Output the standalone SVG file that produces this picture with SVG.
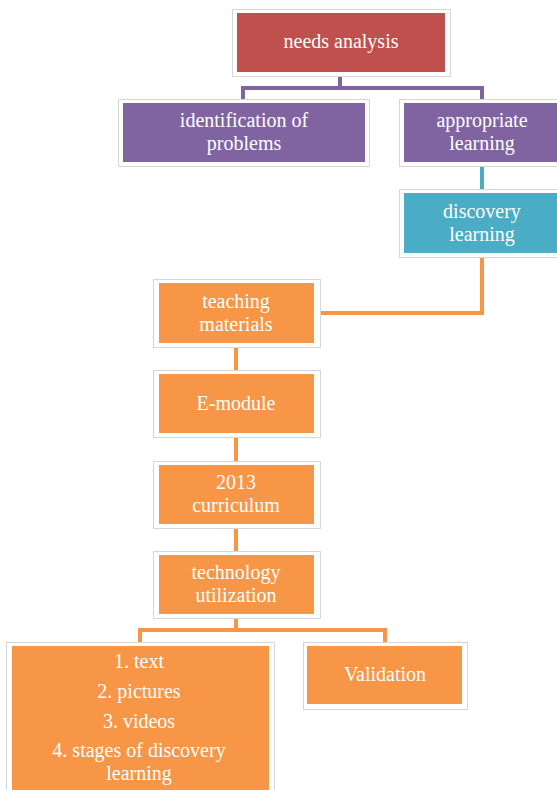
<svg xmlns="http://www.w3.org/2000/svg" width="557" height="790" viewBox="0 0 557 790">
<style>
.frame{fill:#ffffff;stroke:#d6d6d6;stroke-width:1}
.red{fill:#C0504D}.purple{fill:#8064A2}.teal{fill:#4BACC6}.orange{fill:#F79646}
.lbl{font-family:'Liberation Serif',serif;font-size:20px;fill:#ffffff;text-anchor:middle}
.c{fill:none;stroke-width:4;stroke-linejoin:miter}
</style>
<rect width="557" height="790" fill="#ffffff"/>
<g id="connectors">
<path class="c" stroke="#8064A2" d="M243,100 V88 H482 V100 M340,76 V88"/>
<path class="c" stroke="#4BACC6" d="M482,166 V190"/>
<path class="c" stroke="#F79646" d="M482,257 V313 H320"/>
<path class="c" stroke="#F79646" d="M236,347 V370 M236,437 V461 M236,528 V551 M236,618 V630"/>
<path class="c" stroke="#F79646" d="M140,642 V630 H385 V642"/>
</g>
<g id="needs-analysis">
<rect class="frame" x="232.5" y="9.5" width="218" height="67"/>
<rect class="red" x="237" y="13" width="208" height="59"/>
<text class="lbl" x="341" y="48">needs analysis</text>
</g>
<g id="identification">
<rect class="frame" x="118.5" y="99.5" width="251" height="67"/>
<rect class="purple" x="123" y="103" width="242" height="59"/>
<text class="lbl" x="244" y="127">identification of</text>
<text class="lbl" x="244" y="150">problems</text>
</g>
<g id="appropriate">
<rect class="frame" x="399.5" y="99.5" width="165" height="67"/>
<rect class="purple" x="404" y="103" width="160" height="59"/>
<text class="lbl" x="482" y="127">appropriate</text>
<text class="lbl" x="482" y="150">learning</text>
</g>
<g id="discovery">
<rect class="frame" x="399.5" y="189.5" width="165" height="68"/>
<rect class="teal" x="404" y="193" width="160" height="60"/>
<text class="lbl" x="482" y="218">discovery</text>
<text class="lbl" x="482" y="241">learning</text>
</g>
<g id="teaching-materials">
<rect class="frame" x="153.5" y="279.5" width="167" height="68"/>
<rect class="orange" x="159" y="283" width="155" height="60"/>
<text class="lbl" x="236" y="308">teaching</text>
<text class="lbl" x="236" y="331">materials</text>
</g>
<g id="e-module">
<rect class="frame" x="153.5" y="370.5" width="167" height="67"/>
<rect class="orange" x="159" y="374" width="155" height="59"/>
<text class="lbl" x="236" y="410">E-module</text>
</g>
<g id="curriculum">
<rect class="frame" x="153.5" y="461.5" width="167" height="67"/>
<rect class="orange" x="159" y="465" width="155" height="59"/>
<text class="lbl" x="236" y="489">2013</text>
<text class="lbl" x="236" y="512">curriculum</text>
</g>
<g id="technology">
<rect class="frame" x="153.5" y="551.5" width="167" height="67"/>
<rect class="orange" x="159" y="555" width="155" height="59"/>
<text class="lbl" x="236" y="579">technology</text>
<text class="lbl" x="236" y="602">utilization</text>
</g>
<g id="contents">
<rect class="frame" x="6.5" y="642.5" width="268" height="160"/>
<rect class="orange" x="12" y="646" width="257" height="150"/>
<text class="lbl" x="139" y="668">1. text</text>
<text class="lbl" x="139" y="698">2. pictures</text>
<text class="lbl" x="139" y="728">3. videos</text>
<text class="lbl" x="139" y="757">4. stages of discovery</text>
<text class="lbl" x="139" y="780">learning</text>
</g>
<g id="validation">
<rect class="frame" x="303.5" y="642.5" width="164" height="67"/>
<rect class="orange" x="307" y="646" width="155" height="58"/>
<text class="lbl" x="385" y="681">Validation</text>
</g>
</svg>
